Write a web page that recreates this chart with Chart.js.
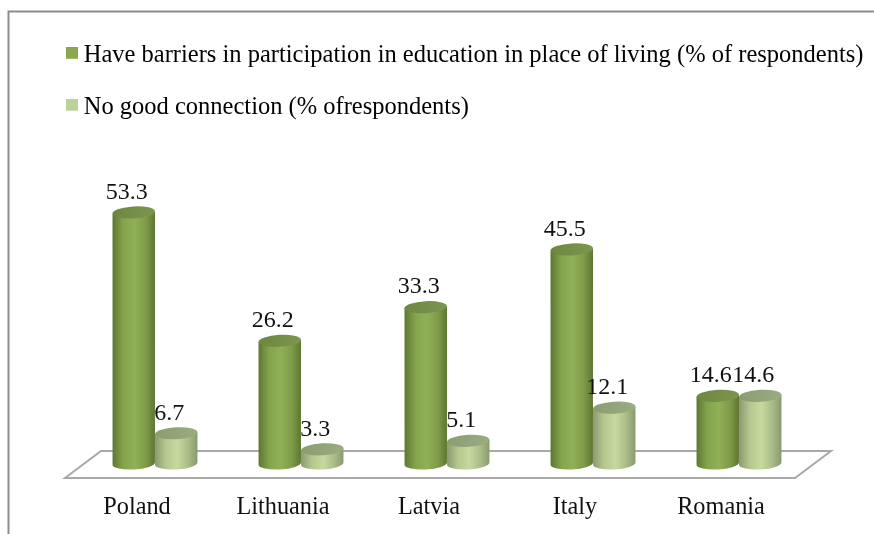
<!DOCTYPE html>
<html>
<head>
<meta charset="utf-8">
<style>html,body{margin:0;padding:0;background:#fff}#w{position:relative;width:874px;height:534px}</style>
<script src="https://cdn.jsdelivr.net/npm/chart.js@4/dist/chart.umd.min.js"></script>
</head>
<body>
<div id="w"><canvas id="c" width="874" height="534"></canvas></div>
<script>
const categories = ["Poland", "Lithuania", "Latvia", "Italy", "Romania"];
const barriers = [53.3, 26.2, 33.3, 45.5, 14.6];
const connection = [6.7, 3.3, 5.1, 12.1, 14.6];
const seriesNames = [
  "Have barriers in participation in education in place of living (% of respondents)",
  "No good connection (% ofrespondents)"
];
const FONT = '"Liberation Serif", "Times New Roman", serif';
const legendColors = ["#8aa64f", "#bdd19a"];
const shades = [
  {edge:"#5d7731", inner:"#84a34c", inner2:"#7f9c49", mid:"#90b056", top:"#6d8740", topEdge:"#7c9650"},
  {edge:"#8a9a70", inner:"#b3c78e", inner2:"#aabd88", mid:"#c6da9f", top:"#8a9c70", topEdge:"#9aac82"}
];
function swatch(color){
  const s = document.createElement("canvas");
  s.width = 12; s.height = 17;
  const g = s.getContext("2d");
  g.fillStyle = color; g.fillRect(0,0,12,12);
  return s;
}
const cylinders = {
  id:"cylinders",
  beforeDraw(chart){
    const c = chart.ctx;
    c.save();
    c.fillStyle="#fff"; c.fillRect(0,0,874,534);
    c.strokeStyle="#8c8c8c"; c.lineWidth=2;
    c.beginPath(); c.moveTo(8.5,534); c.lineTo(8.5,11.5); c.lineTo(874,11.5); c.stroke();
    c.restore();
  },
  beforeDatasetsDraw(chart){
    const c = chart.ctx;
    const a = chart.chartArea;
    c.save();
    c.strokeStyle="#a8a8a8"; c.lineWidth=2; c.fillStyle="#fff";
    c.beginPath();
    c.moveTo(a.left-17,a.bottom+13); c.lineTo(a.left+19,a.bottom-14);
    c.lineTo(a.right+19,a.bottom-14); c.lineTo(a.right-17,a.bottom+13); c.closePath();
    c.fill(); c.stroke();
    c.restore();
    const tilt = -0.055, ry = 6;
    chart.data.datasets.forEach((ds,di)=>{
      const meta = chart.getDatasetMeta(di);
      const s = shades[di];
      meta.data.forEach(el=>{
        const rx = el.width/2, x = el.x, yTop = el.y, yBase = el.base-1.5;
        const g = c.createLinearGradient(x-rx,0,x+rx,0);
        g.addColorStop(0,s.edge); g.addColorStop(0.25,s.inner);
        g.addColorStop(0.52,s.mid); g.addColorStop(0.78,s.inner2); g.addColorStop(1,s.edge);
        c.save();
        c.fillStyle = g;
        c.beginPath();
        c.ellipse(x,yBase,rx,ry,tilt,0,Math.PI);
        c.lineTo(x-rx,yTop+1);
        c.lineTo(x+rx,yTop-1);
        c.closePath();
        c.fill();
        const t = c.createLinearGradient(x-rx,0,x+rx,0);
        t.addColorStop(0,s.top); t.addColorStop(1,s.topEdge);
        c.fillStyle = t;
        c.beginPath();
        c.ellipse(x,yTop,rx,ry,tilt,0,Math.PI*2);
        c.fill();
        c.restore();
      });
    });
    return false;
  },
  afterDraw(chart){
    const c = chart.ctx;
    c.save();
    c.font = '24px '+FONT;
    c.fillStyle = "#111";
    c.textAlign = "center";
    c.textBaseline = "middle";
    chart.data.datasets.forEach((ds,di)=>{
      chart.getDatasetMeta(di).data.forEach((el,i)=>{
        c.fillText(ds.data[i].toFixed(1), el.x-7, el.y-20);
      });
    });
    c.restore();
  }
};
new Chart(document.getElementById("c"),{
  type:"bar",
  data:{
    labels:categories,
    datasets:[
      {label:seriesNames[0],data:barriers,backgroundColor:legendColors[0],pointStyle:swatch(legendColors[0])},
      {label:seriesNames[1],data:connection,backgroundColor:legendColors[1],pointStyle:swatch(legendColors[1])}
    ]
  },
  plugins:[cylinders],
  options:{
    responsive:false,
    animation:false,
    layout:{padding:{left:44,right:0,top:15.5,bottom:0}},
    datasets:{bar:{barPercentage:1,categoryPercentage:0.582}},
    plugins:{
      tooltip:{enabled:false},
      title:{display:false},
      legend:{
        display:true,position:"top",align:"start",
        labels:{
          usePointStyle:true,
          boxWidth:0.01,boxHeight:12,
          padding:27.5,
          color:"#111",
          font:{family:FONT,size:24.5,lineHeight:1},
          generateLabels(chart){
            return chart.data.datasets.map((d,i)=>({
              text:d.label,datasetIndex:i,fillStyle:d.backgroundColor,strokeStyle:d.backgroundColor,
              lineWidth:0,pointStyle:d.pointStyle,hidden:false
            }));
          }
        }
      }
    },
    scales:{
      x:{
        grid:{display:false},
        border:{display:false},
        ticks:{color:"#111",font:{family:FONT,size:24.3},padding:20,labelOffset:-18,maxRotation:0,autoSkip:false},
        afterFit(s){s.height=69;}
      },
      y:{
        min:0,max:70.8,
        grid:{display:false},
        border:{display:false},
        ticks:{display:false},
        afterFit(s){s.width=38;}
      },
      gutter:{
        type:"linear",position:"right",display:true,
        grid:{display:false},
        border:{display:false},
        ticks:{display:false},
        afterFit(s){s.width=62;}
      }
    }
  }
});
</script>
</body>
</html>
